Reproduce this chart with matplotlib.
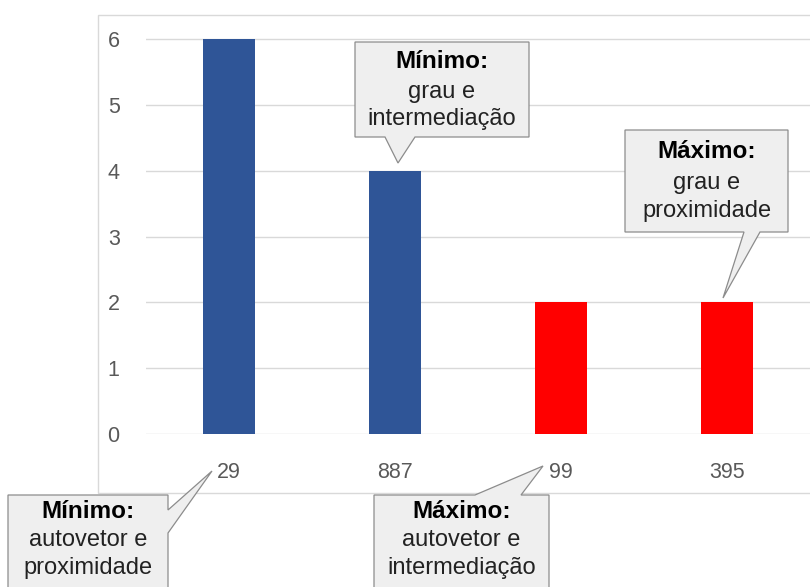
import numpy as np
import matplotlib
matplotlib.use('agg')
import matplotlib.pyplot as plt
from matplotlib.patches import Polygon, Rectangle

plt.rcParams['font.family'] = ['Liberation Sans', 'DejaVu Sans']

# data
categories = ['29', '887', '99', '395']
values = [6, 4, 2, 2]
bar_colors = ['#2f5597', '#2f5597', '#ff0000', '#ff0000']
yticks = [0, 1, 2, 3, 4, 5, 6]

callout_titles = ['Mínimo:', 'Máximo:', 'Mínimo:', 'Máximo:']
callout_lines = [['grau e', 'intermediação'],
                 ['grau e', 'proximidade'],
                 ['autovetor e', 'proximidade'],
                 ['autovetor e', 'intermediação']]

W, H = 810., 587.

def fx(x, y):
    # top-left pixel -> figure fraction
    return (x / W, 1.0 - y / H)

def callout(fig, box, pointer, title, lines, ty):
    x0, y0, x1, y1 = box
    side, a, b, tip = pointer
    if side == 'bottom':
        verts = [(x0, y0), (x1, y0), (x1, y1), (b, y1), tip, (a, y1), (x0, y1)]
    elif side == 'top':
        verts = [(x0, y0), (a, y0), tip, (b, y0), (x1, y0), (x1, y1), (x0, y1)]
    else:
        verts = [(x0, y0), (x1, y0), (x1, a), tip, (x1, b), (x1, y1), (x0, y1)]
    p = Polygon([fx(*v) for v in verts], closed=True, transform=fig.transFigure,
                facecolor='#efefef', edgecolor='#8c8c8c', linewidth=0.9, zorder=10)
    fig.patches.append(p)
    cx = (x0 + x1) / 2.
    fig.text(*fx(cx, ty[0]), title, ha='center', va='center', fontsize=17.5,
             fontweight='bold', color='black', zorder=11)
    for ln, yy in zip(lines, ty[1:]):
        fig.text(*fx(cx, yy), ln, ha='center', va='center', fontsize=17,
                 color='#222222', zorder=11)

fig = plt.figure(figsize=[8.1, 5.87], dpi=100)

# chart frame
fig.patches.append(Rectangle(fx(98, 493), 740 / W, 478 / H, transform=fig.transFigure,
                             facecolor='none', edgecolor='#d9d9d9', linewidth=1))

ytop = 6.05
ax = fig.add_axes([146 / W, 1 - 434 / H, (810 - 146) / W, (ytop * 65.8) / H])
x = np.arange(len(categories))
ax.bar(x, values, width=0.31, color=bar_colors, zorder=3)
ax.set_xlim(-0.5, 3.5)
ax.set_ylim(0, ytop)
ax.set_yticks(yticks)
ax.set_xticks(x)
ax.set_xticklabels(categories)
ax.yaxis.grid(True, color='#d9d9d9', linewidth=1)
ax.set_axisbelow(True)
for s in ax.spines.values():
    s.set_visible(False)
ax.tick_params(axis='both', length=0, labelsize=15.5, labelcolor='#595959')
ax.tick_params(axis='y', pad=19)
ax.tick_params(axis='x', pad=20)

callout(fig, (355, 42, 529, 137), ('bottom', 385, 415, (398, 163)),
        callout_titles[0], callout_lines[0], (62, 92, 119))
callout(fig, (625, 130, 788, 232), ('bottom', 744, 760, (723, 298)),
        callout_titles[1], callout_lines[1], (152, 183, 211))
callout(fig, (8, 495, 168, 600), ('right', 510, 533, (212, 471)),
        callout_titles[2], callout_lines[2], (511, 540, 568))
callout(fig, (374, 495, 549, 600), ('top', 475, 521, (543, 466)),
        callout_titles[3], callout_lines[3], (511, 540, 568))

plt.savefig('out.png', format='png', dpi=100)
plt.close(fig)
